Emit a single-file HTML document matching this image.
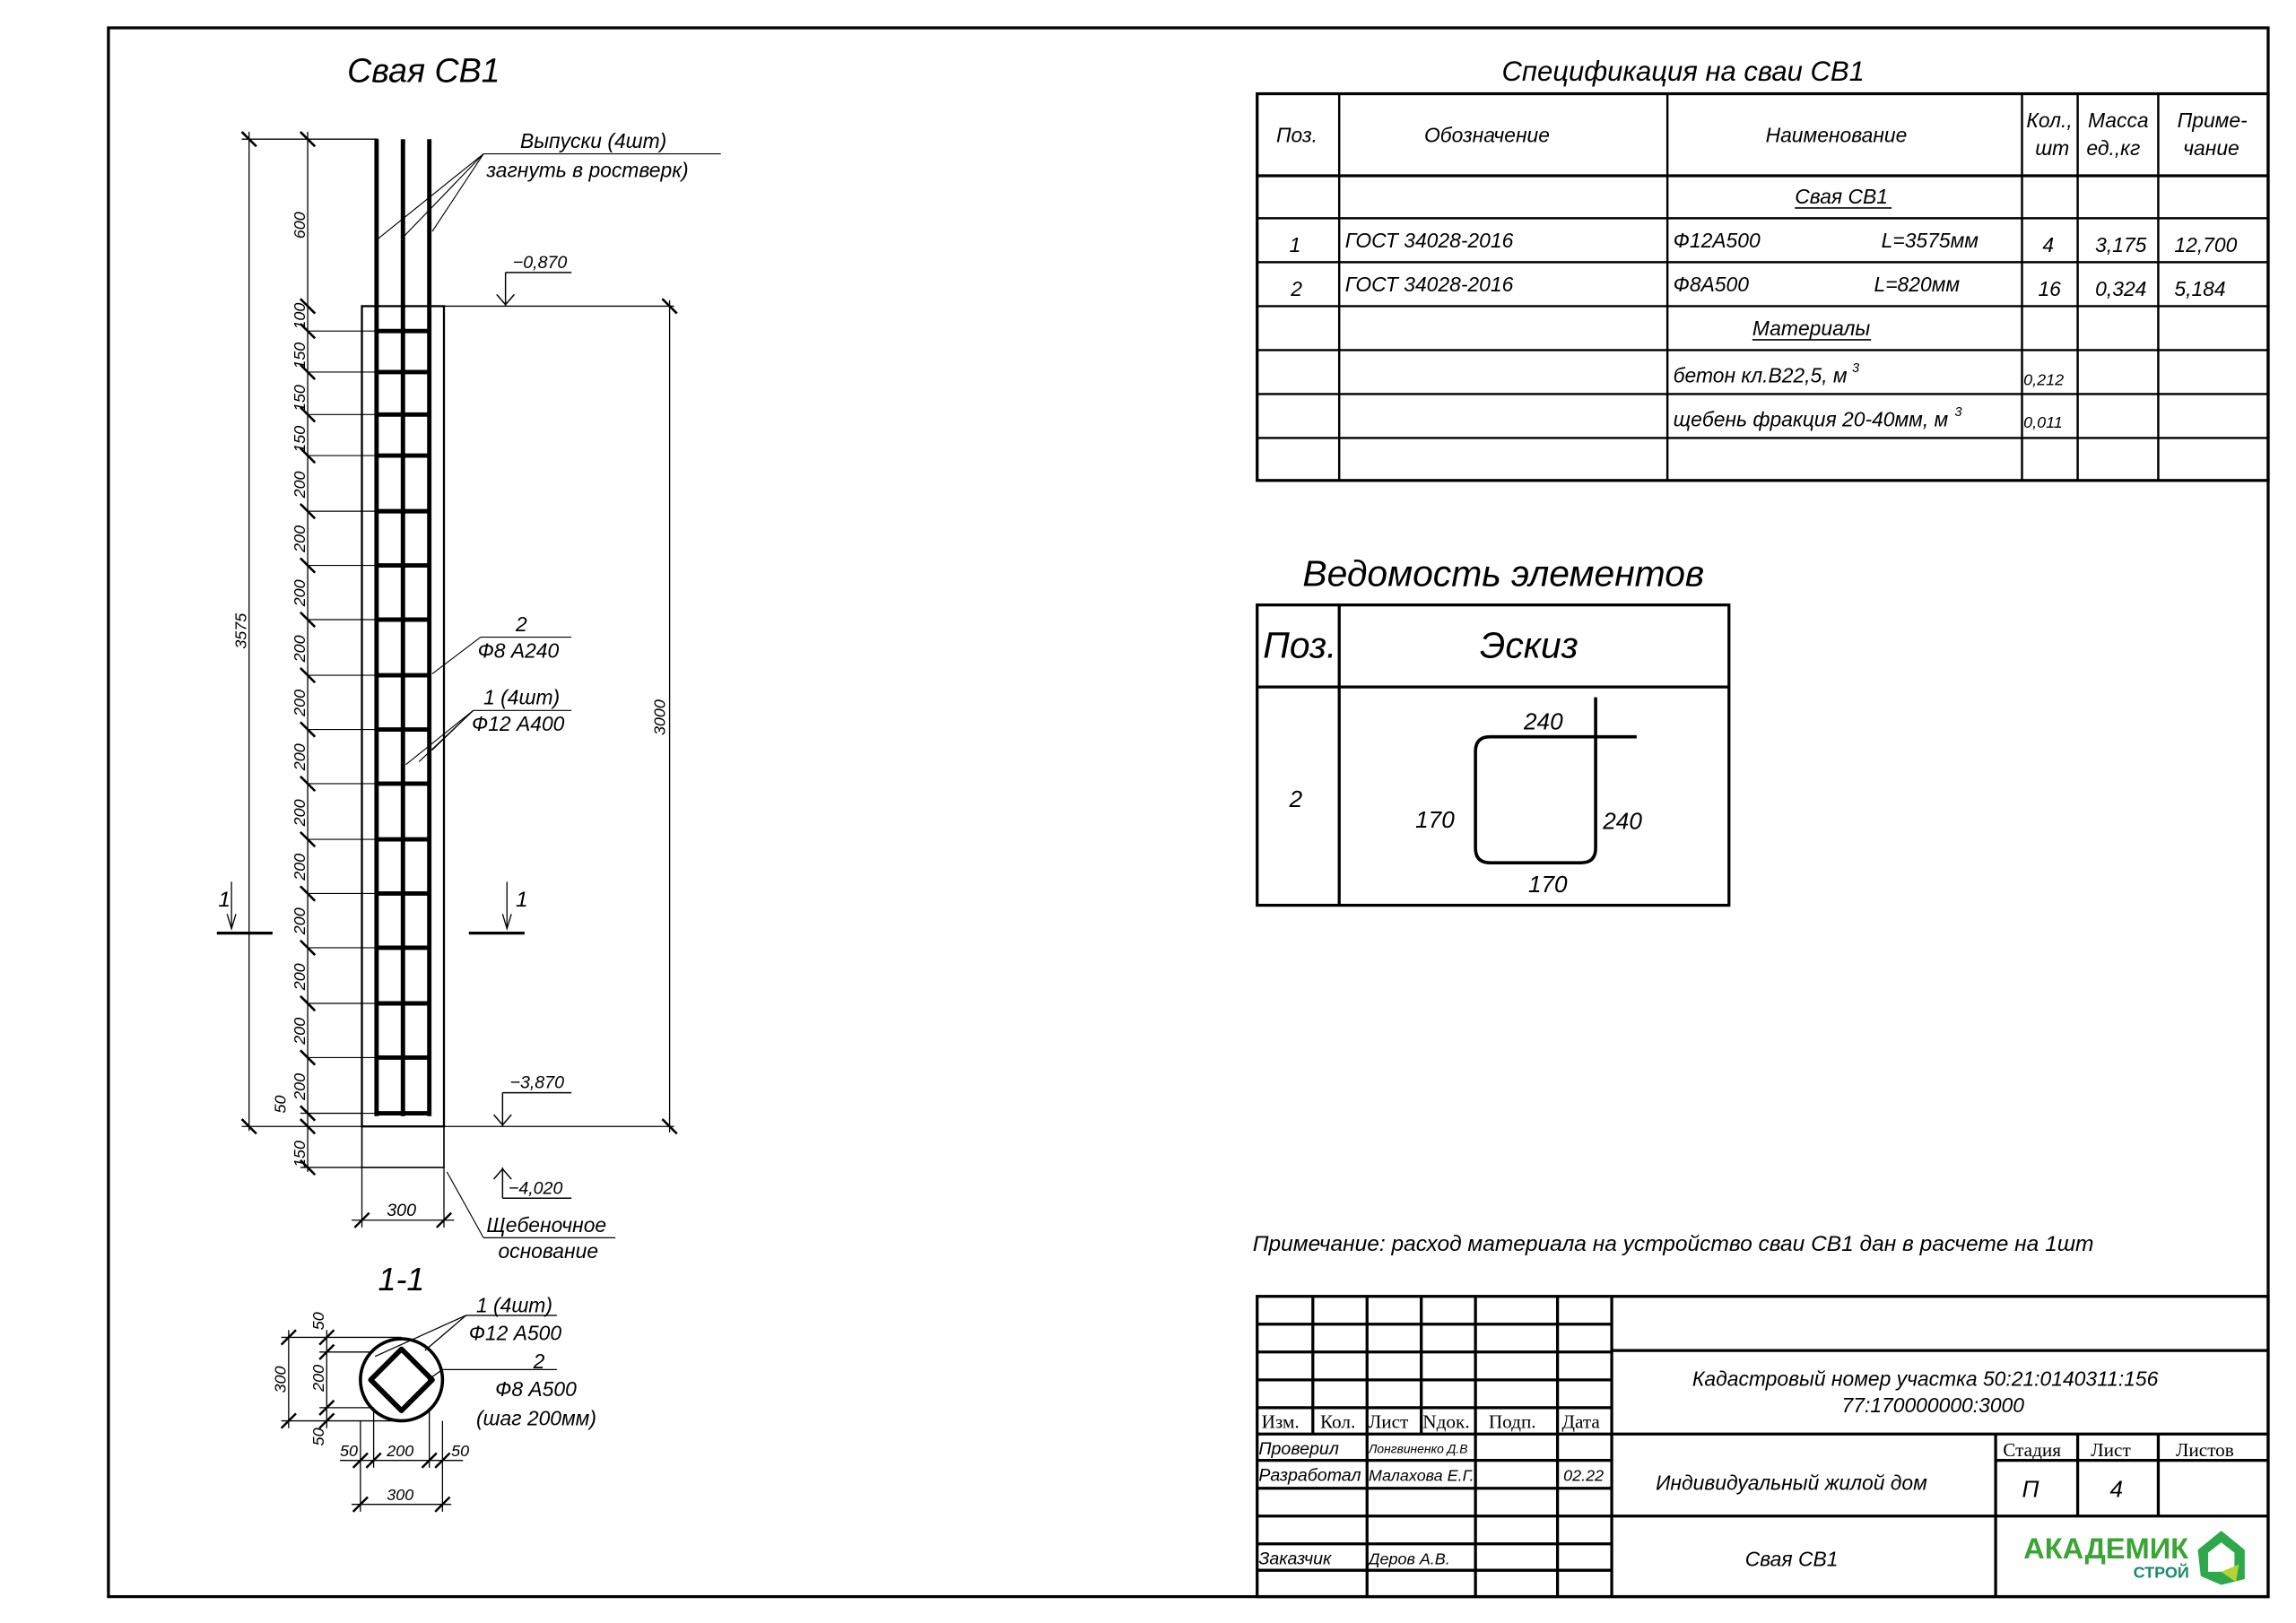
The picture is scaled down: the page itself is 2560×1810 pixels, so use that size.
<!DOCTYPE html>
<html><head><meta charset="utf-8"><style>
html,body{margin:0;padding:0;background:#fff}
svg{display:block}
text{font-family:"Liberation Sans","DejaVu Sans",sans-serif;font-style:italic;fill:#000}
.s{font-family:"Liberation Serif",serif;font-style:normal}
</style></head><body>
<svg width="2560" height="1810" viewBox="0 0 1567 1108" preserveAspectRatio="none" xmlns="http://www.w3.org/2000/svg">
<rect width="1570" height="1110" fill="#fff"/>
<rect x="74" y="19" width="1474" height="1071" fill="none" stroke="#000" stroke-width="2"/>

<!-- Left drawing -->
<text x="237" y="56" font-size="23">Свая СВ1</text>
<g stroke="#000" stroke-width="0.8" fill="none">
  <line x1="170" y1="90" x2="170" y2="772"/>
  <line x1="210" y1="90" x2="210" y2="800"/>
  <line x1="165" y1="95" x2="258" y2="95"/>
  <line x1="303" y1="209" x2="460" y2="209"/>
  <line x1="303" y1="769" x2="460" y2="769"/>
  <line x1="457" y1="205" x2="457" y2="773"/>
  <line x1="165" y1="769" x2="247" y2="769"/>
  <line x1="205" y1="797" x2="247" y2="797"/>
  <line x1="205" y1="760" x2="247" y2="760"/>
</g>
<g stroke="#000" stroke-width="1.6">
  <line x1="165" y1="90" x2="175" y2="100"/><line x1="205" y1="90" x2="215" y2="100"/>
  <line x1="165" y1="764" x2="175" y2="774"/><line x1="452" y1="204" x2="462" y2="214"/><line x1="452" y1="764" x2="462" y2="774"/>
  <line x1="205" y1="204" x2="215" y2="214"/>
  <line x1="205" y1="221" x2="215" y2="231"/><line x1="205" y1="249" x2="215" y2="259"/><line x1="205" y1="278" x2="215" y2="288"/><line x1="205" y1="306" x2="215" y2="316"/>
  <line x1="205" y1="344" x2="215" y2="354"/><line x1="205" y1="381" x2="215" y2="391"/><line x1="205" y1="418" x2="215" y2="428"/><line x1="205" y1="456" x2="215" y2="466"/>
  <line x1="205" y1="493" x2="215" y2="503"/><line x1="205" y1="530" x2="215" y2="540"/><line x1="205" y1="568" x2="215" y2="578"/><line x1="205" y1="605" x2="215" y2="615"/>
  <line x1="205" y1="642" x2="215" y2="652"/><line x1="205" y1="680" x2="215" y2="690"/><line x1="205" y1="717" x2="215" y2="727"/><line x1="205" y1="755" x2="215" y2="765"/>
  <line x1="205" y1="764" x2="215" y2="774"/><line x1="205" y1="792" x2="215" y2="802"/>
</g>
<g stroke="#000" stroke-width="0.7">
  <line x1="210" y1="226" x2="256" y2="226"/><line x1="210" y1="254" x2="256" y2="254"/><line x1="210" y1="283" x2="256" y2="283"/><line x1="210" y1="311" x2="256" y2="311"/>
  <line x1="210" y1="349" x2="256" y2="349"/><line x1="210" y1="386" x2="256" y2="386"/><line x1="210" y1="423" x2="256" y2="423"/><line x1="210" y1="461" x2="256" y2="461"/>
  <line x1="210" y1="498" x2="256" y2="498"/><line x1="210" y1="535" x2="256" y2="535"/><line x1="210" y1="573" x2="256" y2="573"/><line x1="210" y1="610" x2="256" y2="610"/>
  <line x1="210" y1="647" x2="256" y2="647"/><line x1="210" y1="685" x2="256" y2="685"/><line x1="210" y1="722" x2="256" y2="722"/><line x1="210" y1="760" x2="256" y2="760"/>
</g>
<!-- pile -->
<rect x="247" y="209" width="56" height="560" fill="none" stroke="#000" stroke-width="1.4"/>
<rect x="247" y="769" width="56" height="28" fill="none" stroke="#000" stroke-width="1"/>
<g stroke="#000" stroke-width="3">
  <line x1="257" y1="95" x2="257" y2="762"/><line x1="275" y1="95" x2="275" y2="762"/><line x1="293" y1="95" x2="293" y2="762"/>
  <line x1="256" y1="226" x2="294" y2="226"/><line x1="256" y1="254" x2="294" y2="254"/><line x1="256" y1="283" x2="294" y2="283"/><line x1="256" y1="311" x2="294" y2="311"/>
  <line x1="256" y1="349" x2="294" y2="349"/><line x1="256" y1="386" x2="294" y2="386"/><line x1="256" y1="423" x2="294" y2="423"/><line x1="256" y1="461" x2="294" y2="461"/>
  <line x1="256" y1="498" x2="294" y2="498"/><line x1="256" y1="535" x2="294" y2="535"/><line x1="256" y1="573" x2="294" y2="573"/><line x1="256" y1="610" x2="294" y2="610"/>
  <line x1="256" y1="647" x2="294" y2="647"/><line x1="256" y1="685" x2="294" y2="685"/><line x1="256" y1="722" x2="294" y2="722"/><line x1="256" y1="760" x2="294" y2="760"/>
</g>
<g font-size="11">
  <text transform="translate(168,443) rotate(-90)">3575</text>
  <text transform="translate(208,163) rotate(-90)">600</text>
  <text transform="translate(208,225) rotate(-90)">100</text>
  <text transform="translate(208,252) rotate(-90)">150</text>
  <text transform="translate(208,281) rotate(-90)">150</text>
  <text transform="translate(208,309) rotate(-90)">150</text>
  <text transform="translate(208,340) rotate(-90)">200</text>
  <text transform="translate(208,377) rotate(-90)">200</text>
  <text transform="translate(208,414) rotate(-90)">200</text>
  <text transform="translate(208,452) rotate(-90)">200</text>
  <text transform="translate(208,489) rotate(-90)">200</text>
  <text transform="translate(208,526) rotate(-90)">200</text>
  <text transform="translate(208,564) rotate(-90)">200</text>
  <text transform="translate(208,601) rotate(-90)">200</text>
  <text transform="translate(208,638) rotate(-90)">200</text>
  <text transform="translate(208,676) rotate(-90)">200</text>
  <text transform="translate(208,713) rotate(-90)">200</text>
  <text transform="translate(208,751) rotate(-90)">200</text>
  <text transform="translate(195,760) rotate(-90)">50</text>
  <text transform="translate(208,797) rotate(-90)">150</text>
  <text transform="translate(454,502) rotate(-90)">3000</text>
</g>
<!-- levels -->
<g stroke="#000" stroke-width="0.9" fill="none">
  <line x1="345" y1="186" x2="390" y2="186"/><line x1="345" y1="186" x2="345" y2="209"/>
  <polyline points="339,201 345,208 351,201"/>
  <line x1="343" y1="746" x2="390" y2="746"/><line x1="343" y1="746" x2="343" y2="769"/>
  <polyline points="337,761 343,768 349,761"/>
  <line x1="343" y1="818" x2="390" y2="818"/><line x1="343" y1="797" x2="343" y2="818"/>
  <polyline points="337,805 343,798 349,805"/>
</g>
<g font-size="12"><text x="350" y="183">−0,870</text><text x="348" y="743">−3,870</text><text x="347" y="815">−4,020</text></g>
<!-- leaders -->
<g stroke="#000" stroke-width="0.7" fill="none">
  <line x1="330" y1="105" x2="492" y2="105"/>
  <line x1="330" y1="105" x2="258" y2="163"/><line x1="330" y1="105" x2="276" y2="161"/><line x1="330" y1="105" x2="295" y2="158"/>
  <line x1="328" y1="435" x2="390" y2="435"/><line x1="328" y1="435" x2="295" y2="460"/>
  <line x1="323" y1="485" x2="390" y2="485"/><line x1="323" y1="485" x2="277" y2="522"/><line x1="323" y1="485" x2="286" y2="520"/><line x1="323" y1="485" x2="295" y2="512"/>
  <line x1="305" y1="800" x2="330" y2="845"/><line x1="330" y1="845" x2="420" y2="845"/>
</g>
<g font-size="14">
  <text x="355" y="101">Выпуски (4шт)</text>
  <text x="332" y="121">загнуть в ростверк)</text>
  <text x="352" y="431">2</text>
  <text x="326" y="449">Ф8 А240</text>
  <text x="330" y="481">1 (4шт)</text>
  <text x="322" y="499">Ф12 А400</text>
  <text x="332" y="841">Щебеночное</text>
  <text x="340" y="859">основание</text>
</g>
<!-- section marks -->
<g stroke="#000" fill="none">
  <line x1="148" y1="637" x2="186" y2="637" stroke-width="2"/>
  <line x1="158" y1="602" x2="158" y2="634" stroke-width="0.8"/>
  <polyline points="155,624 158,634 161,624" stroke-width="0.8"/>
  <line x1="320" y1="637" x2="358" y2="637" stroke-width="2"/>
  <line x1="346" y1="602" x2="346" y2="634" stroke-width="0.8"/>
  <polyline points="343,624 346,634 349,624" stroke-width="0.8"/>
</g>
<text x="149" y="619" font-size="15">1</text><text x="352" y="619" font-size="15">1</text>
<!-- 300 -->
<g stroke="#000" stroke-width="0.8">
  <line x1="247" y1="797" x2="247" y2="838"/><line x1="303" y1="797" x2="303" y2="838"/>
  <line x1="240" y1="833" x2="310" y2="833"/>
</g>
<g stroke="#000" stroke-width="1.5"><line x1="242" y1="838" x2="252" y2="828"/><line x1="298" y1="838" x2="308" y2="828"/></g>
<text x="264" y="830" font-size="12">300</text>

<!-- Section 1-1 -->
<text x="258" y="881" font-size="22">1-1</text>
<circle cx="274" cy="942" r="28" fill="none" stroke="#000" stroke-width="2.2"/>
<polygon points="274,921 295,942 274,963 253,942" fill="none" stroke="#000" stroke-width="3.5" stroke-linejoin="round"/>
<g stroke="#000" stroke-width="0.8" fill="none">
  <line x1="197" y1="908" x2="197" y2="975"/><line x1="223" y1="908" x2="223" y2="975"/>
  <line x1="192" y1="913" x2="274" y2="913"/><line x1="218" y1="923" x2="255" y2="923"/><line x1="218" y1="961" x2="255" y2="961"/><line x1="192" y1="970" x2="274" y2="970"/>
  <line x1="246" y1="970" x2="246" y2="1032"/><line x1="302" y1="970" x2="302" y2="1032"/>
  <line x1="255" y1="961" x2="255" y2="1002"/><line x1="293" y1="961" x2="293" y2="1002"/>
  <line x1="232" y1="997" x2="316" y2="997"/><line x1="240" y1="1027" x2="308" y2="1027"/>
  <line x1="318" y1="898" x2="380" y2="898"/><line x1="318" y1="898" x2="256" y2="926"/><line x1="318" y1="898" x2="290" y2="922"/>
  <line x1="302" y1="935" x2="380" y2="935"/><line x1="302" y1="935" x2="292" y2="942"/>
</g>
<g stroke="#000" stroke-width="1.5">
  <line x1="192" y1="918" x2="202" y2="908"/><line x1="192" y1="975" x2="202" y2="965"/>
  <line x1="218" y1="918" x2="228" y2="908"/><line x1="218" y1="928" x2="228" y2="918"/><line x1="218" y1="966" x2="228" y2="956"/><line x1="218" y1="975" x2="228" y2="965"/>
  <line x1="241" y1="1002" x2="251" y2="992"/><line x1="250" y1="1002" x2="260" y2="992"/><line x1="288" y1="1002" x2="298" y2="992"/><line x1="297" y1="1002" x2="307" y2="992"/>
  <line x1="241" y1="1032" x2="251" y2="1022"/><line x1="297" y1="1032" x2="307" y2="1022"/>
</g>
<g font-size="11">
  <text transform="translate(195,951) rotate(-90)">300</text>
  <text transform="translate(221,908) rotate(-90)">50</text>
  <text transform="translate(221,950) rotate(-90)">200</text>
  <text transform="translate(221,987) rotate(-90)">50</text>
  <text x="232" y="994">50</text><text x="264" y="994">200</text><text x="308" y="994">50</text>
  <text x="264" y="1024">300</text>
</g>
<g font-size="14">
  <text x="325" y="896">1 (4шт)</text><text x="320" y="915">Ф12 А500</text>
  <text x="364" y="934">2</text><text x="338" y="953">Ф8 А500</text><text x="325" y="973">(шаг 200мм)</text>
</g>

<!-- Spec table -->
<text x="1025" y="55" font-size="19">Спецификация на сваи СВ1</text>
<g stroke="#000" stroke-width="1.5" fill="none">
  <rect x="858" y="64" width="690" height="264" stroke-width="2"/>
  <line x1="914" y1="64" x2="914" y2="328"/><line x1="1138" y1="64" x2="1138" y2="328"/><line x1="1380" y1="64" x2="1380" y2="328"/>
  <line x1="1418" y1="64" x2="1418" y2="328"/><line x1="1473" y1="64" x2="1473" y2="328"/>
  <line x1="858" y1="120" x2="1548" y2="120" stroke-width="2"/>
  <line x1="858" y1="149" x2="1548" y2="149"/><line x1="858" y1="179" x2="1548" y2="179"/><line x1="858" y1="209" x2="1548" y2="209"/>
  <line x1="858" y1="239" x2="1548" y2="239"/><line x1="858" y1="269" x2="1548" y2="269"/><line x1="858" y1="299" x2="1548" y2="299"/>
  <line x1="1225" y1="142" x2="1291" y2="142" stroke-width="1"/><line x1="1196" y1="232" x2="1277" y2="232" stroke-width="1"/>
</g>
<g font-size="14">
  <text x="871" y="97">Поз.</text><text x="972" y="97">Обозначение</text><text x="1205" y="97">Наименование</text>
  <text x="1383" y="87">Кол.,</text><text x="1389" y="106">шт</text>
  <text x="1425" y="87">Масса</text><text x="1424" y="106">ед.,кг</text>
  <text x="1486" y="87">Приме-</text><text x="1490" y="106">чание</text>
  <text x="1225" y="139">Свая СВ1</text>
  <text x="880" y="172">1</text><text x="918" y="169">ГОСТ 34028-2016</text><text x="1142" y="169">Ф12А500</text><text x="1284" y="169">L=3575мм</text>
  <text x="1394" y="172">4</text><text x="1430" y="172">3,175</text><text x="1484" y="172">12,700</text>
  <text x="881" y="202">2</text><text x="918" y="199">ГОСТ 34028-2016</text><text x="1142" y="199">Ф8А500</text><text x="1279" y="199">L=820мм</text>
  <text x="1391" y="202">16</text><text x="1430" y="202">0,324</text><text x="1484" y="202">5,184</text>
  <text x="1196" y="229">Материалы</text>
  <text x="1142" y="261">бетон кл.В22,5, м</text><text x="1264" y="254" font-size="9">3</text>
  <text x="1142" y="291">щебень фракция 20-40мм, м</text><text x="1334" y="284" font-size="9">3</text>
  <text x="1381" y="263" font-size="11">0,212</text><text x="1381" y="292" font-size="11">0,011</text>
</g>

<!-- Ведомость -->
<text x="889" y="400" font-size="25">Ведомость элементов</text>
<g stroke="#000" stroke-width="2" fill="none">
  <rect x="858" y="413" width="322" height="205"/>
  <line x1="914" y1="413" x2="914" y2="618"/><line x1="858" y1="469" x2="1180" y2="469"/>
  <path d="M1089,503 H1017 Q1007,503 1007,513 V579 Q1007,589 1017,589 H1079 Q1089,589 1089,579 V476" stroke-width="2.2"/>
  <line x1="1089" y1="503" x2="1117" y2="503" stroke-width="2.2"/>
</g>
<text x="862" y="449" font-size="25">Поз.</text><text x="1010" y="449" font-size="25">Эскиз</text>
<g font-size="16"><text x="880" y="551">2</text><text x="1040" y="498">240</text><text x="966" y="565">170</text><text x="1094" y="566">240</text><text x="1043" y="609">170</text></g>

<text x="855" y="854" font-size="15">Примечание: расход материала на устройство сваи СВ1 дан в расчете на 1шт</text>

<!-- Title block -->
<g stroke="#000" stroke-width="2" fill="none">
  <rect x="858" y="885" width="690" height="205"/>
  <line x1="1100" y1="885" x2="1100" y2="1090"/>
  <line x1="1100" y1="922" x2="1548" y2="922"/><line x1="1100" y1="979" x2="1548" y2="979"/><line x1="1100" y1="1035" x2="1548" y2="1035"/>
  <line x1="1362" y1="979" x2="1362" y2="1090"/><line x1="1418" y1="979" x2="1418" y2="1035"/><line x1="1473" y1="979" x2="1473" y2="1035"/>
  <line x1="1362" y1="997" x2="1548" y2="997"/>
  <line x1="896" y1="885" x2="896" y2="979"/><line x1="933" y1="885" x2="933" y2="1090"/><line x1="970" y1="885" x2="970" y2="979"/>
  <line x1="1007" y1="885" x2="1007" y2="1090"/><line x1="1063" y1="885" x2="1063" y2="1090"/>
  <line x1="858" y1="904" x2="1100" y2="904"/><line x1="858" y1="923" x2="1100" y2="923"/><line x1="858" y1="942" x2="1100" y2="942"/>
  <line x1="858" y1="961" x2="1100" y2="961"/><line x1="858" y1="979" x2="1100" y2="979"/><line x1="858" y1="997" x2="1100" y2="997"/>
  <line x1="858" y1="1016" x2="1100" y2="1016"/><line x1="858" y1="1035" x2="1100" y2="1035"/><line x1="858" y1="1054" x2="1100" y2="1054"/>
  <line x1="858" y1="1072" x2="1100" y2="1072"/>
</g>
<g class="s" font-size="13">
  <text class="s" x="861" y="975">Изм.</text><text class="s" x="901" y="975">Кол.</text><text class="s" x="934" y="975">Лист</text>
  <text class="s" x="971" y="975">Nдок.</text><text class="s" x="1016" y="975">Подп.</text><text class="s" x="1066" y="975">Дата</text>
  <text class="s" x="1367" y="994">Стадия</text><text class="s" x="1427" y="994">Лист</text><text class="s" x="1485" y="994">Листов</text>
</g>
<g font-size="12">
  <text x="859" y="993">Проверил</text><text x="934" y="992" font-size="8.5">Лонгвиненко Д.В</text>
  <text x="859" y="1011">Разработал</text><text x="934" y="1011" font-size="11">Малахова Е.Г.</text><text x="1067" y="1011" font-size="11">02.22</text>
  <text x="859" y="1068">Заказчик</text><text x="934" y="1068" font-size="11">Деров А.В.</text>
</g>
<g font-size="14">
  <text x="1155" y="946">Кадастровый номер участка 50:21:0140311:156</text>
  <text x="1257" y="964">77:170000000:3000</text>
  <text x="1130" y="1017">Индивидуальный жилой дом</text>
  <text x="1191" y="1069">Свая СВ1</text>
  <text x="1380" y="1022" font-size="16">П</text><text x="1440" y="1022" font-size="16">4</text>
</g>
<!-- logo -->
<text x="1381" y="1064" font-size="20" font-weight="bold" style="font-style:normal;fill:#3aa535">АКАДЕМИК</text>
<text x="1456" y="1077" font-size="11" font-weight="bold" style="font-style:normal;fill:#1a8a6a">СТРОЙ</text>
<path d="M1500,1058 L1516,1045 L1532,1058 L1532,1078 L1516,1082 L1502,1076 Z" fill="#2ea84a"/>
<path d="M1507,1060 L1516,1053 L1525,1060 L1525,1073 L1507,1073 Z" fill="#fff"/>
<path d="M1516,1073 L1528,1068 L1526,1080 Z" fill="#b5d334"/>
</svg>
</body></html>
